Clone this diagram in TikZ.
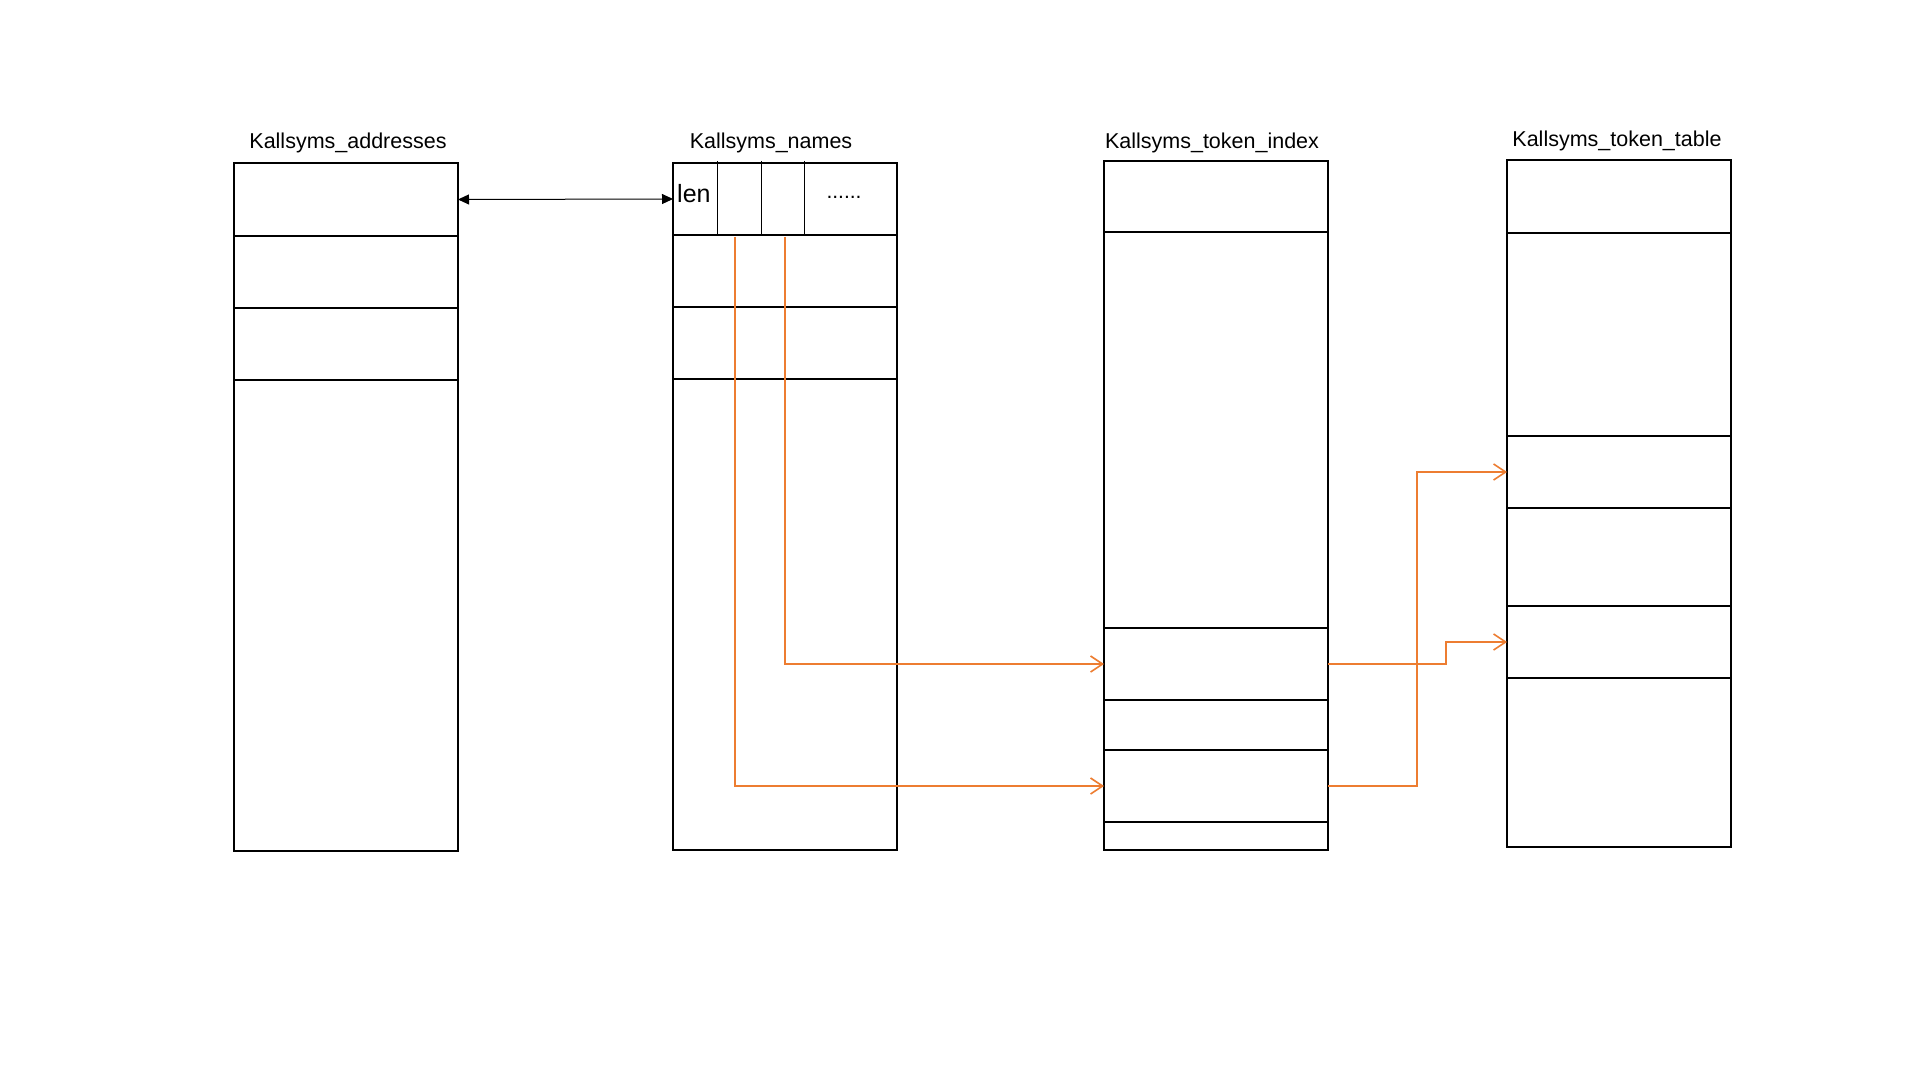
\documentclass[tikz,border=0pt]{standalone}
\usepackage{fontspec}
\setmainfont{Liberation Sans}
\usetikzlibrary{arrows.meta}
\definecolor{arrorange}{HTML}{ED7D31}
\begin{document}
\begin{tikzpicture}[x=1pt,y=-1pt,
  cell/.style={draw, line width=2pt, minimum width=224pt, inner sep=0pt, outer sep=0pt, anchor=north west},
  title/.style={anchor=base, inner sep=0pt, font=\fontsize{21.5pt}{26pt}\selectfont},
  ptr/.style={draw=arrorange, line width=1.6pt, -{Straight Barb[length=12pt,width=16pt,line width=1.6pt]}},
  link/.style={line width=1pt, {Triangle[length=11pt,width=10pt]}-{Triangle[length=11pt,width=10pt]}},
  divider/.style={line width=1pt}]
\useasboundingbox[fill=white] (0,0) rectangle (1920,1078);
% titles
\node[title] (tA) at (348,149) {Kallsyms\_addresses};
\node[title] (tB) at (771,149) {Kallsyms\_names};
\node[title] (tC) at (1212,149) {Kallsyms\_token\_index};
\node[title] (tD) at (1617,147) {Kallsyms\_token\_table};
% column A
\node[cell, minimum height=73pt] (A1) at (234,163) {};
\node[cell, minimum height=72pt] (A2) at (234,236) {};
\node[cell, minimum height=72pt] (A3) at (234,308) {};
\node[cell, minimum height=471pt] (A4) at (234,380) {};
% column B
\node[cell, minimum height=72pt] (B1) at (673,163) {};
\node[cell, minimum height=72pt] (B2) at (673,235) {};
\node[cell, minimum height=72pt] (B3) at (673,307) {};
\node[cell, minimum height=471pt] (B4) at (673,379) {};
\draw[divider] ([xshift=44pt,yshift=2pt]B1.north west) -- ([xshift=44pt]B1.south west);
\draw[divider] ([xshift=88pt,yshift=2pt]B1.north west) -- ([xshift=88pt]B1.south west);
\draw[divider] ([xshift=131pt,yshift=2pt]B1.north west) -- ([xshift=131pt]B1.south west);
\node[anchor=base west, inner sep=0pt, font=\fontsize{25pt}{30pt}\selectfont] (len) at (677,203) {len};
\node[anchor=base, inner sep=0pt, font=\fontsize{21pt}{26pt}\selectfont] (dots) at (844,199) {......};
% column C
\node[cell, minimum height=71pt] (C1) at (1104,161) {};
\node[cell, minimum height=396pt] (C2) at (1104,232) {};
\node[cell, minimum height=72pt] (C3) at (1104,628) {};
\node[cell, minimum height=50pt] (C4) at (1104,700) {};
\node[cell, minimum height=72pt] (C5) at (1104,750) {};
\node[cell, minimum height=28pt] (C6) at (1104,822) {};
% column D
\node[cell, minimum height=73pt] (D1) at (1507,160) {};
\node[cell, minimum height=203pt] (D2) at (1507,233) {};
\node[cell, minimum height=72pt] (D3) at (1507,436) {};
\node[cell, minimum height=98pt] (D4) at (1507,508) {};
\node[cell, minimum height=72pt] (D5) at (1507,606) {};
\node[cell, minimum height=169pt] (D6) at (1507,678) {};
% connectors
\draw[link] (A1.east) -- (B1.west);
\draw[ptr] ([xshift=112pt,yshift=-2pt]B1.south west) |- (C3.west);
\draw[ptr] ([xshift=62pt,yshift=-2pt]B1.south west) |- (C5.west);
\draw[ptr] (C3.east) -- ++(118,0) |- (D5.west);
\draw[ptr] (C5.east) -- ++(89,0) |- (D3.west);
\end{tikzpicture}
\end{document}
